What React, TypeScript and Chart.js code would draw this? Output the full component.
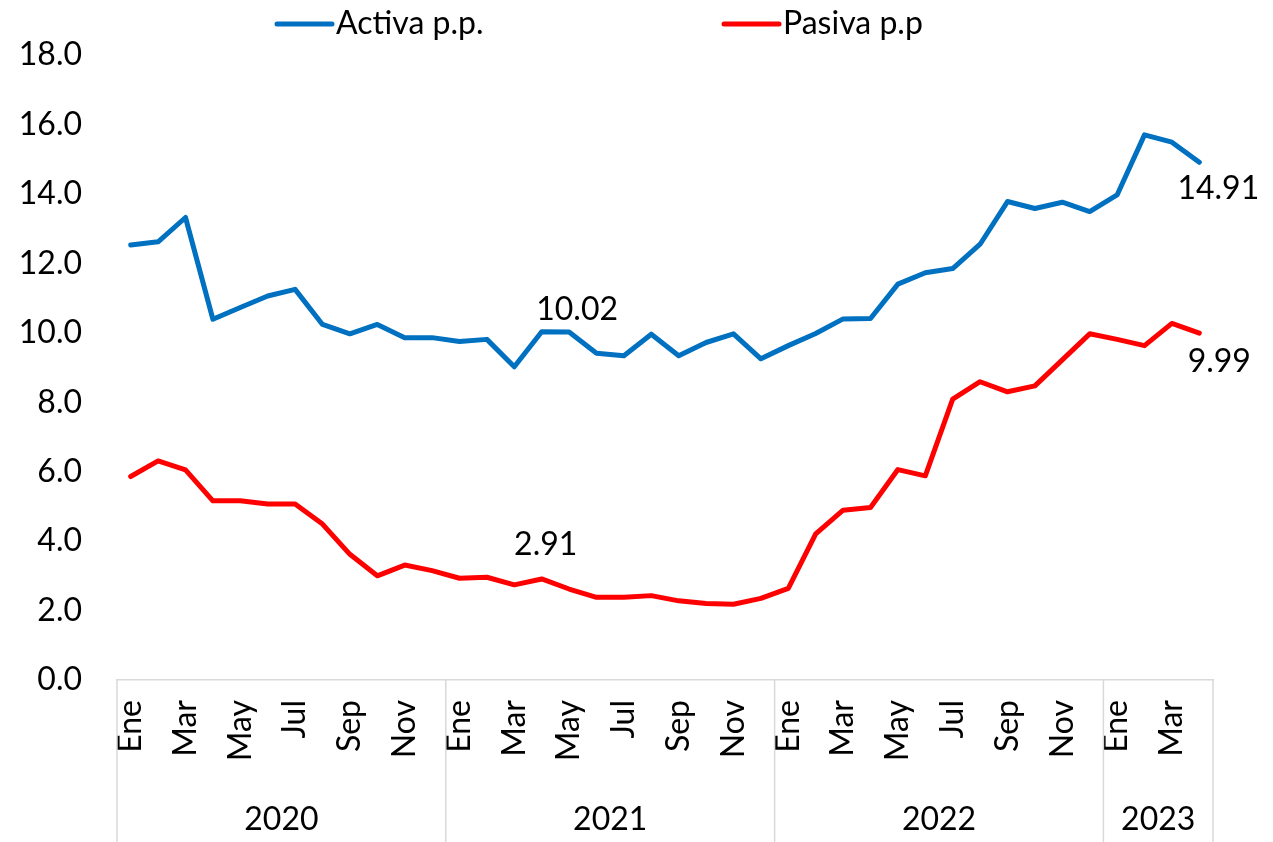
import React, { useEffect, useRef } from "react";
import { Chart, registerables } from "chart.js";

Chart.register(...registerables);

// ---- Data ----
const MONTH_NAMES = ["Ene", "Feb", "Mar", "Abr", "May", "Jun", "Jul", "Ago", "Sep", "Oct", "Nov", "Dic"];
const YEARS = ["2020", "2021", "2022", "2023"];
const YEAR_MONTHS = [12, 12, 12, 4];

const ACTIVA = [
  12.53, 12.62, 13.32, 10.39, 10.73, 11.06, 11.25, 10.24, 9.97, 10.24, 9.86, 9.86,
  9.75, 9.81, 9.02, 10.03, 10.02, 9.41, 9.34, 9.96, 9.34, 9.72, 9.97, 9.25,
  9.63, 9.98, 10.4, 10.41, 11.4, 11.73, 11.85, 12.55, 13.78, 13.58, 13.76, 13.49,
  13.97, 15.7, 15.49, 14.91,
];
const PASIVA = [
  5.86, 6.31, 6.05, 5.16, 5.16, 5.07, 5.07, 4.49, 3.62, 3.0, 3.31, 3.15,
  2.93, 2.96, 2.74, 2.91, 2.62, 2.38, 2.38, 2.43, 2.28, 2.2, 2.18, 2.35,
  2.64, 4.21, 4.89, 4.97, 6.06, 5.88, 8.09, 8.59, 8.3, 8.47, 9.22, 9.97,
  9.81, 9.63, 10.27, 9.99,
];
const SERIES_NAMES = ["Activa p.p.", "Pasiva p.p"];
const Y_MIN = 0;
const Y_MAX = 18;
const Y_STEP = 2;

// labelled points: [seriesIndex, pointIndex]
const LABELED_POINTS: [number, number][] = [
  [0, 16],
  [1, 15],
  [0, 39],
  [1, 39],
];

// ---- Styles ----
const FONT = "Lato, 'Open Sans', sans-serif";
const FONT_SIZE = 32;
const COLORS = ["#0070C0", "#FF0000"];
const AXIS_GRAY = "#d9d9d9";
// label offsets (px) relative to the point, per labelled point
const LABEL_OFFSETS: [number, number][] = [
  [8, -22],
  [4, -34],
  [19, 26],
  [20, 29],
];

const LABELS: string[] = [];
YEAR_MONTHS.forEach((n) => {
  for (let m = 0; m < n; m++) LABELS.push(MONTH_NAMES[m]);
});

export default function App() {
  const canvasRef = useRef<HTMLCanvasElement | null>(null);

  useEffect(() => {
    document.body.style.margin = "0";
    const canvas = canvasRef.current;
    if (!canvas) return;

    const overlayPlugin = {
      id: "overlay",
      afterDraw(chart: any) {
        const ctx = chart.ctx as CanvasRenderingContext2D;
        const area = chart.chartArea;
        const xs = chart.scales.x;
        const ys = chart.scales.y;
        ctx.save();

        // Year separators + labels
        ctx.strokeStyle = AXIS_GRAY;
        ctx.lineWidth = 1.5;
        const bounds: number[] = [area.left];
        let acc = 0;
        YEAR_MONTHS.forEach((n) => {
          acc += n;
          if (acc < LABELS.length) {
            bounds.push((xs.getPixelForValue(acc - 1) + xs.getPixelForValue(acc)) / 2);
          } else {
            bounds.push(area.right);
          }
        });
        bounds.forEach((bx) => {
          ctx.beginPath();
          ctx.moveTo(bx, area.bottom);
          ctx.lineTo(bx, chart.height);
          ctx.stroke();
        });
        ctx.fillStyle = "#000";
        ctx.font = `${FONT_SIZE}px ${FONT}`;
        ctx.textAlign = "center";
        ctx.textBaseline = "middle";
        YEARS.forEach((y, i) => {
          ctx.fillText(y, (bounds[i] + bounds[i + 1]) / 2, chart.height - 22);
        });

        // Data labels
        LABELED_POINTS.forEach(([s, idx], k) => {
          const v = s === 0 ? ACTIVA[idx] : PASIVA[idx];
          const px = xs.getPixelForValue(idx);
          const py = ys.getPixelForValue(v);
          const [dx, dy] = LABEL_OFFSETS[k];
          ctx.fillText(v.toFixed(2), px + dx, py + dy);
        });

        // Legend
        const legendY = 24;
        const legendStarts = [area.left + 160, area.left + 607];
        ctx.textAlign = "left";
        SERIES_NAMES.forEach((name, i) => {
          const x0 = legendStarts[i];
          ctx.strokeStyle = COLORS[i];
          ctx.lineWidth = 5;
          ctx.lineCap = "round";
          ctx.beginPath();
          ctx.moveTo(x0, legendY);
          ctx.lineTo(x0 + 55, legendY);
          ctx.stroke();
          ctx.fillStyle = "#000";
          ctx.fillText(name, x0 + 59, legendY);
        });

        ctx.restore();
      },
    };

    const chart = new Chart(canvas, {
      type: "line",
      data: {
        labels: LABELS,
        datasets: [
          {
            label: SERIES_NAMES[0],
            data: ACTIVA,
            borderColor: COLORS[0],
            backgroundColor: COLORS[0],
            borderWidth: 5,
            pointRadius: 0,
            tension: 0,
            borderJoinStyle: "round",
            borderCapStyle: "round",
          },
          {
            label: SERIES_NAMES[1],
            data: PASIVA,
            borderColor: COLORS[1],
            backgroundColor: COLORS[1],
            borderWidth: 5,
            pointRadius: 0,
            tension: 0,
            borderJoinStyle: "round",
            borderCapStyle: "round",
          },
        ],
      },
      options: {
        animation: false,
        responsive: true,
        maintainAspectRatio: false,
        layout: { padding: { top: 55, right: 60, left: 0, bottom: 0 } },
        plugins: {
          legend: { display: false },
          tooltip: { enabled: false },
        },
        scales: {
          x: {
            type: "category",
            offset: true,
            grid: { display: false, drawTicks: false },
            border: { display: true, color: AXIS_GRAY, width: 1.5 },
            ticks: {
              autoSkip: false,
              maxRotation: 90,
              minRotation: 90,
              padding: 20,
              color: "#000",
              font: { family: FONT, size: FONT_SIZE },
              callback: (_v: any, i: number) => (i % 2 === 0 ? LABELS[i] : ""),
            },
            afterFit: (scale: any) => {
              scale.height = 162;
            },
          },
          y: {
            min: Y_MIN,
            max: Y_MAX,
            grid: { display: false, drawTicks: false },
            border: { display: false },
            ticks: {
              stepSize: Y_STEP,
              padding: 35,
              color: "#000",
              font: { family: FONT, size: FONT_SIZE },
              callback: (v: any) => Number(v).toFixed(1),
            },
            afterFit: (scale: any) => {
              scale.width = 117;
            },
          },
        },
      },
      plugins: [overlayPlugin],
    } as any);

    return () => chart.destroy();
  }, []);

  return (
    <div style={{ width: 1273, height: 842, position: "relative" }}>
      <canvas ref={canvasRef} />
    </div>
  );
}
